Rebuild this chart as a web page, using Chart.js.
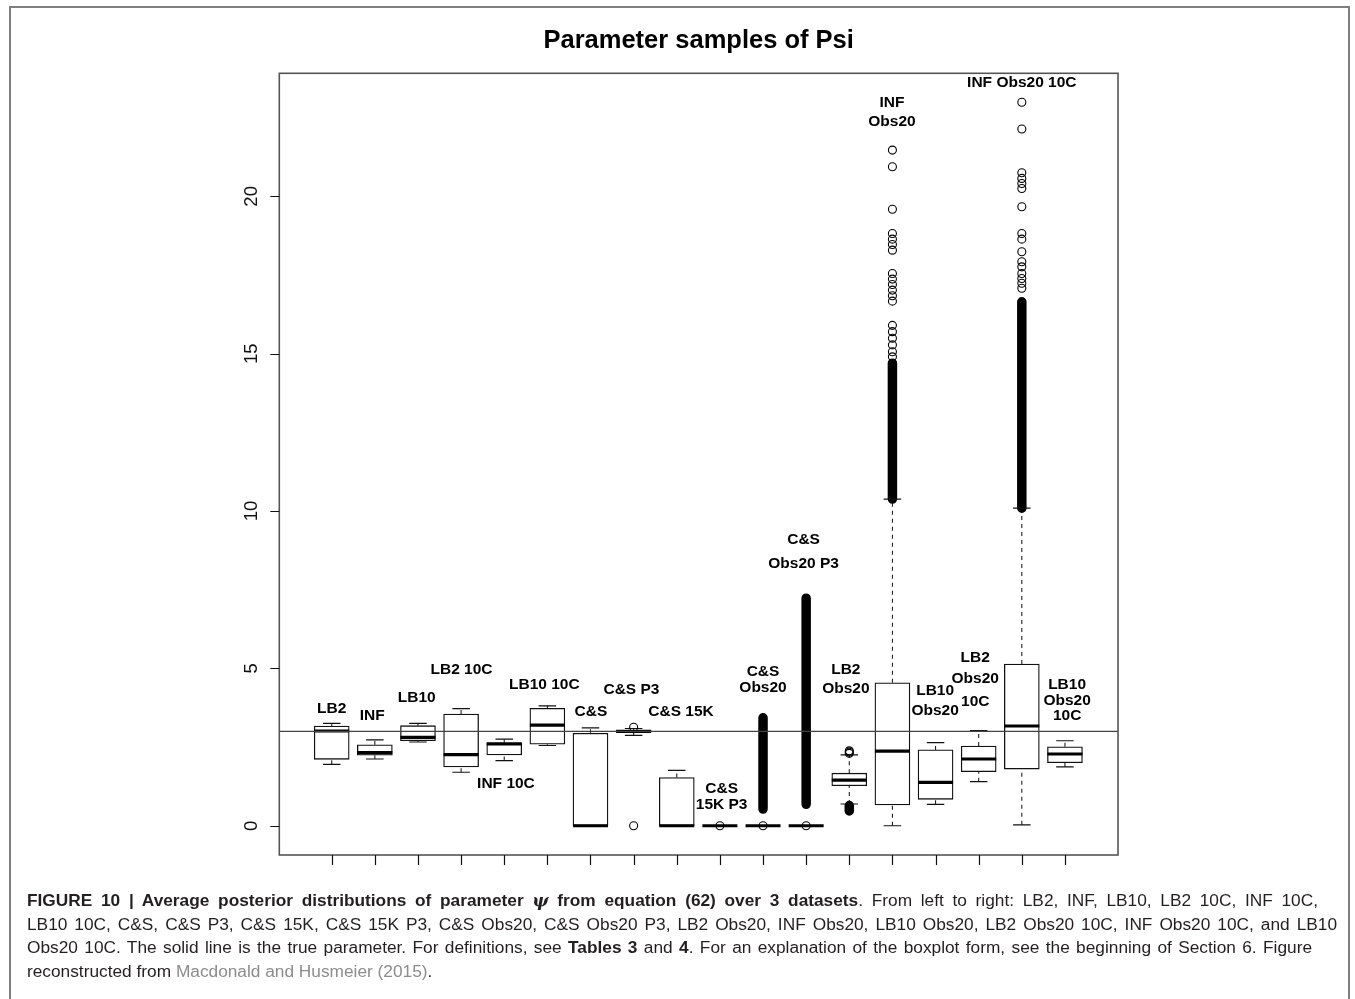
<!DOCTYPE html>
<html>
<head>
<meta charset="utf-8">
<script src="https://cdn.jsdelivr.net/npm/chart.js@4.4.0/dist/chart.umd.min.js"></script>
<style>
  body { margin: 0; background: #fff; }
  #wrap { position: relative; width: 1355px; height: 999px; overflow: hidden; }
  #frame { position: absolute; left: 9px; top: 6px; width: 1341px; height: 1100px; border: 2px solid #7f7f7f; box-sizing: border-box; }
  #chart { position: absolute; left: 0; top: 0; }
  #caption { position: absolute; left: 27px; top: 889px; font-family: "Liberation Sans", Arial, sans-serif; font-size: 17.3px; line-height: 23.7px; color: #231f20; }
  #caption div { height: 23.7px; overflow: hidden; text-align: justify; text-align-last: justify; }
  #caption div.last { text-align-last: left; white-space: nowrap; }
  #caption .gray { color: #8c8c8c; }
  #caption .psi { font-family: "DejaVu Serif", serif; font-style: italic; }
</style>
</head>
<body>
<div id="wrap">
  <div id="frame"></div>
  <canvas id="chart" width="1355" height="999"></canvas>
  <div id="caption">
    <div style="width:1291px"><b>FIGURE 10 | Average posterior distributions of parameter <span class="psi">ψ</span> from equation (62) over 3 datasets</b>. From left to right: LB2, INF, LB10, LB2 10C, INF 10C,</div>
    <div style="width:1310px">LB10 10C, C&amp;S, C&amp;S P3, C&amp;S 15K, C&amp;S 15K P3, C&amp;S Obs20, C&amp;S Obs20 P3, LB2 Obs20, INF Obs20, LB10 Obs20, LB2 Obs20 10C, INF Obs20 10C, and LB10</div>
    <div style="width:1285px">Obs20 10C. The solid line is the true parameter. For definitions, see <b>Tables 3</b> and <b>4</b>. For an explanation of the boxplot form, see the beginning of Section 6. Figure</div>
    <div class="last">reconstructed from <span class="gray">Macdonald and Husmeier (2015)</span>.</div>
  </div>
</div>
<script>
// boxplot summaries, one entry per category (left to right)
const categories = ['LB2', 'INF', 'LB10', 'LB2 10C', 'INF 10C', 'LB10 10C', 'C&S', 'C&S P3', 'C&S 15K',
  'C&S 15K P3', 'C&S Obs20', 'C&S Obs20 P3', 'LB2 Obs20', 'INF Obs20', 'LB10 Obs20', 'LB2 Obs20 10C',
  'INF Obs20 10C', 'LB10 Obs20 10C'];
const whiskerLow  = [1.95, 2.12, 2.66, 1.70, 2.07, 2.55, 0, 2.87, 0, 0, 0, 0, 0.69, 0.00, 0.68, 1.40, 0.03, 1.87];
const quartile1   = [2.11, 2.24, 2.70, 1.87, 2.25, 2.59, 0, 2.97, 0, 0, 0, 0, 1.27, 0.66, 0.84, 1.72, 1.80, 2.00];
const medians     = [3.01, 2.32, 2.81, 2.26, 2.60, 3.20, 0, 3.00, 0, 0, 0, 0, 1.45, 2.37, 1.38, 2.12, 3.17, 2.28];
const quartile3   = [3.17, 2.57, 3.18, 3.55, 2.63, 3.73, 2.94, 3.02, 1.53, 0, 0, 0, 1.67, 4.54, 2.41, 2.53, 5.14, 2.51];
const whiskerHigh = [3.25, 2.73, 3.25, 3.72, 2.75, 3.81, 3.11, 3.09, 1.76, 0, 0, 0, 2.25, 10.38, 2.64, 3.02, 10.09, 2.70];

// single outliers that can be told apart
const outliers = [
  [], [], [], [], [], [], [],
  [3.13, 0],
  [],
  [0],
  [0],
  [0],
  [2.30, 2.34, 2.38],
  [14.90, 15.06, 15.28, 15.49, 15.70, 15.90, 16.67, 16.84, 17.02, 17.20, 17.37, 17.55, 18.29, 18.47, 18.64, 18.82, 19.59, 20.94, 21.47],
  [],
  [],
  [17.08, 17.24, 17.39, 17.55, 17.76, 17.92, 18.24, 18.64, 18.82, 19.67, 20.25, 20.41, 20.57, 20.75, 22.14, 22.99],
  []
];
// runs of outliers so dense they merge into a solid column
const bandLow  = [null, null, null, null, null, null, null, null, null, null, 0.53, 0.68, 0.47, 10.38, null, null, 10.09, null];
const bandHigh = [null, null, null, null, null, null, null, null, null, null, 3.43, 7.23, 0.64, 14.70, null, null, 16.65, null];

const trueValue = 3.0;
const yTicks = [0, 5, 10, 15, 20];
const xRange = [-1.215, 18.23];
const yRange = [-0.93, 23.91];

// text labels written inside the plot (x = category index, y = value)
const boxLabels = [
  { text: 'LB2', x: 0, y: 3.73 },
  { text: 'INF', x: 0.94, y: 3.49 },
  { text: 'LB10', x: 1.97, y: 4.08 },
  { text: 'LB2 10C', x: 3.01, y: 4.95 },
  { text: 'INF 10C', x: 4.04, y: 1.32 },
  { text: 'LB10 10C', x: 4.93, y: 4.49 },
  { text: 'C&S', x: 6.01, y: 3.62 },
  { text: 'C&S P3', x: 6.95, y: 4.33 },
  { text: 'C&S 15K', x: 8.1, y: 3.61 },
  { text: 'C&S', x: 9.04, y: 1.19 },
  { text: '15K P3', x: 9.04, y: 0.66 },
  { text: 'C&S', x: 10.0, y: 4.89 },
  { text: 'Obs20', x: 10.0, y: 4.37 },
  { text: 'C&S', x: 10.94, y: 9.10 },
  { text: 'Obs20 P3', x: 10.94, y: 8.34 },
  { text: 'LB2', x: 11.92, y: 4.95 },
  { text: 'Obs20', x: 11.92, y: 4.34 },
  { text: 'INF', x: 12.99, y: 22.96 },
  { text: 'Obs20', x: 12.99, y: 22.37 },
  { text: 'LB10', x: 13.99, y: 4.29 },
  { text: 'Obs20', x: 13.99, y: 3.64 },
  { text: 'LB2', x: 14.92, y: 5.35 },
  { text: 'Obs20', x: 14.92, y: 4.66 },
  { text: '10C', x: 14.92, y: 3.95 },
  { text: 'INF Obs20 10C', x: 16.0, y: 23.62 },
  { text: 'LB10', x: 17.05, y: 4.49 },
  { text: 'Obs20', x: 17.05, y: 3.96 },
  { text: '10C', x: 17.05, y: 3.51 }
];

// build the datasets from the arrays above
const boxData = categories.map((c, i) => ({ x: i, y: [quartile1[i], quartile3[i]] }));
const medianData = categories.map((c, i) => ({ x: i, y: medians[i] }));
const stapleData = [];
const whiskerData = [];
categories.forEach((c, i) => {
  stapleData.push({ x: i, y: whiskerLow[i] }, { x: i, y: whiskerHigh[i] });
  if (whiskerHigh[i] > quartile3[i]) whiskerData.push({ x: i, y: quartile3[i] }, { x: i, y: whiskerHigh[i] }, { x: i, y: null });
  if (whiskerLow[i] < quartile1[i]) whiskerData.push({ x: i, y: whiskerLow[i] }, { x: i, y: quartile1[i] }, { x: i, y: null });
});
const outlierData = [];
outliers.forEach((list, i) => list.forEach(v => outlierData.push({ x: i, y: v })));
const bandData = [];
bandLow.forEach((lo, i) => {
  if (lo !== null) bandData.push({ x: i, y: lo }, { x: i, y: bandHigh[i] }, { x: i, y: null });
});

const FONT = '"Liberation Sans", Arial, sans-serif';

const decorations = {
  id: 'decorations',
  afterDraw(chart) {
    const { ctx, chartArea: a, scales: { x, y } } = chart;
    ctx.save();
    // plot frame
    ctx.strokeStyle = '#555';
    ctx.lineWidth = 1.6;
    ctx.strokeRect(a.left, a.top, a.right - a.left, a.bottom - a.top);
    // axis ticks
    ctx.strokeStyle = '#111';
    ctx.lineWidth = 1.2;
    ctx.beginPath();
    categories.forEach((c, i) => {
      const px = Math.round(x.getPixelForValue(i)) + 0.5;
      ctx.moveTo(px, a.bottom);
      ctx.lineTo(px, a.bottom + 10);
    });
    yTicks.forEach(v => {
      const py = Math.round(y.getPixelForValue(v)) + 0.5;
      ctx.moveTo(a.left - 9, py);
      ctx.lineTo(a.left, py);
    });
    ctx.stroke();
    // y tick labels, rotated like base R
    ctx.fillStyle = '#111';
    ctx.font = '18.5px ' + FONT;
    ctx.textAlign = 'center';
    ctx.textBaseline = 'middle';
    yTicks.forEach(v => {
      ctx.save();
      ctx.translate(a.left - 27, y.getPixelForValue(v));
      ctx.rotate(-Math.PI / 2);
      ctx.fillText(String(v), 0, 0);
      ctx.restore();
    });
    // box labels
    ctx.fillStyle = '#000';
    ctx.font = 'bold 15.5px ' + FONT;
    boxLabels.forEach(l => {
      ctx.fillText(l.text, x.getPixelForValue(l.x), y.getPixelForValue(l.y));
    });
    // title
    ctx.font = 'bold 25.5px ' + FONT;
    ctx.textBaseline = 'alphabetic';
    ctx.fillText('Parameter samples of Psi', (a.left + a.right) / 2, 48);
    ctx.restore();
  }
};

new Chart(document.getElementById('chart'), {
  type: 'bar',
  data: {
    datasets: [
      {
        type: 'line', label: 'true value', order: 0,
        data: [{ x: xRange[0], y: trueValue }, { x: xRange[1], y: trueValue }],
        borderColor: '#444', borderWidth: 1.2, pointRadius: 0
      },
      {
        type: 'line', label: 'outliers', order: 1, showLine: false,
        data: outlierData,
        pointStyle: 'circle', pointRadius: 4, pointBorderWidth: 1.1,
        pointBorderColor: '#000', pointBackgroundColor: 'rgba(0,0,0,0)'
      },
      {
        type: 'line', label: 'medians', order: 2, showLine: false,
        data: medianData,
        pointStyle: 'line', pointRadius: 17.5, pointBorderWidth: 3.2, pointBorderColor: '#000'
      },
      {
        type: 'line', label: 'staples', order: 3, showLine: false,
        data: stapleData,
        pointStyle: 'line', pointRadius: 8.75, pointBorderWidth: 1.2, pointBorderColor: '#111'
      },
      {
        type: 'line', label: 'dense outliers', order: 4,
        data: bandData, spanGaps: false,
        borderColor: '#000', borderWidth: 9.5, borderCapStyle: 'round', pointRadius: 0
      },
      {
        type: 'bar', label: 'boxes', order: 5,
        data: boxData,
        barThickness: 35, backgroundColor: '#fff', borderColor: '#111',
        borderWidth: 1.3, borderSkipped: false
      },
      {
        type: 'line', label: 'whiskers', order: 6,
        data: whiskerData, spanGaps: false,
        borderColor: '#222', borderWidth: 1.1, borderDash: [4, 4], pointRadius: 0
      }
    ]
  },
  options: {
    responsive: false,
    animation: false,
    events: [],
    layout: { padding: { left: 279.3, right: 237, top: 73.3, bottom: 144 } },
    plugins: { legend: { display: false }, tooltip: { enabled: false }, title: { display: false } },
    scales: {
      x: { type: 'linear', min: xRange[0], max: xRange[1], offset: false, display: false },
      y: { type: 'linear', min: yRange[0], max: yRange[1], display: false }
    }
  },
  plugins: [decorations]
});
</script>
</body>
</html>
